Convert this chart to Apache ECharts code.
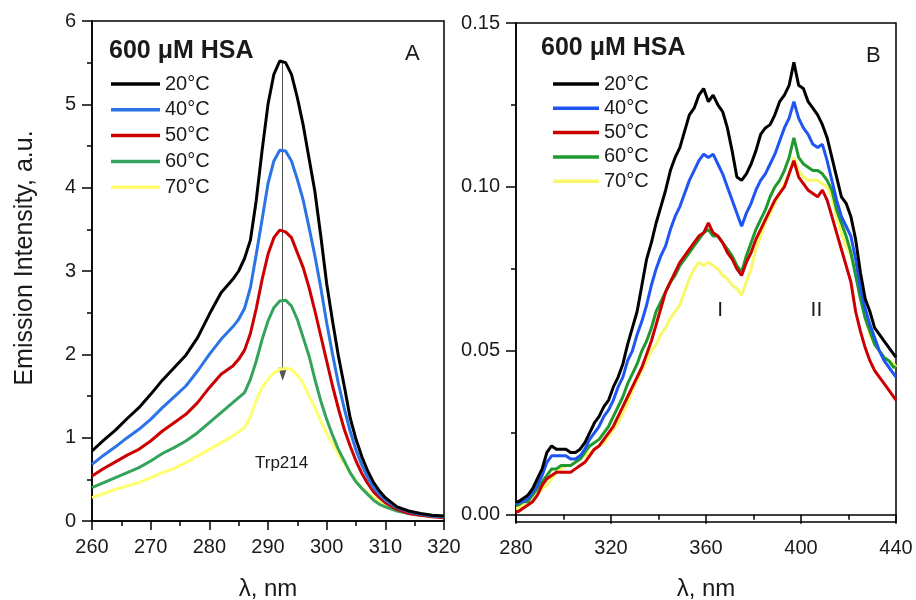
<!DOCTYPE html>
<html>
<head>
<meta charset="utf-8">
<script src="https://cdn.jsdelivr.net/npm/echarts@6/dist/echarts.min.js"></script>
<style>html,body{margin:0;padding:0;background:#fff}#c{width:916px;height:600px}</style>
</head>
<body>
<div id="c"></div>
<script>
// ---------- DATA ----------
const temps = ['20°C', '40°C', '50°C', '60°C', '70°C'];

// Panel A : wavelength (nm)
const wlA = [260,262,264,266,268,270,272,274,276,278,280,282,284,285,286,287,288,289,290,291,292,293,294,295,296,297,298,299,300,301,302,303,304,305,306,307,308,309,310,312,314,316,318,320];
const a20 = [0.84,0.97,1.09,1.23,1.36,1.52,1.69,1.84,1.99,2.20,2.48,2.74,2.90,3.00,3.15,3.37,3.85,4.45,5.00,5.36,5.52,5.50,5.36,5.08,4.75,4.35,3.95,3.42,2.85,2.40,1.98,1.62,1.24,0.98,0.77,0.60,0.46,0.36,0.28,0.17,0.12,0.09,0.07,0.06];
const a40 = [0.68,0.79,0.89,1.00,1.10,1.22,1.36,1.49,1.62,1.80,2.00,2.18,2.33,2.42,2.55,2.80,3.20,3.62,4.05,4.32,4.45,4.44,4.32,4.10,3.85,3.52,3.18,2.80,2.38,2.00,1.65,1.35,1.08,0.85,0.67,0.52,0.40,0.32,0.25,0.16,0.11,0.08,0.06,0.05];
const a50 = [0.54,0.63,0.71,0.79,0.86,0.96,1.08,1.18,1.28,1.42,1.60,1.76,1.86,1.94,2.05,2.25,2.55,2.90,3.20,3.40,3.49,3.47,3.40,3.22,3.04,2.80,2.52,2.22,1.92,1.62,1.35,1.10,0.90,0.72,0.57,0.45,0.35,0.28,0.22,0.14,0.09,0.07,0.05,0.04];
const a60 = [0.40,0.46,0.52,0.58,0.64,0.72,0.81,0.88,0.96,1.06,1.18,1.30,1.42,1.48,1.54,1.70,1.92,2.18,2.40,2.56,2.64,2.65,2.58,2.42,2.20,1.98,1.70,1.44,1.22,1.03,0.86,0.72,0.58,0.47,0.39,0.32,0.25,0.20,0.17,0.12,0.09,0.07,0.06,0.05];
const a70 = [0.28,0.33,0.38,0.42,0.46,0.52,0.58,0.63,0.70,0.78,0.86,0.94,1.02,1.07,1.12,1.25,1.45,1.60,1.70,1.78,1.82,1.83,1.82,1.75,1.65,1.50,1.36,1.20,1.05,0.93,0.80,0.69,0.58,0.48,0.40,0.34,0.28,0.24,0.21,0.15,0.11,0.08,0.06,0.05];

// Panel B : wavelength (nm)
const wlB = [280,281,283,285,287,289,291,293,295,297,299,301,303,305,307,309,311,313,315,317,319,321,323,325,327,329,331,333,335,337,339,341,343,345,347,349,351,353,355,357,359,361,363,365,367,369,371,373,375,377,379,381,383,385,387,389,391,393,395,397,399,401,403,405,407,409,411,413,415,417,419,421,423,425,427,429,431,433,435,437,439,440];
const b20 = [0.004,0.004,0.005,0.006,0.008,0.011,0.014,0.019,0.021,0.020,0.020,0.020,0.019,0.019,0.020,0.022,0.025,0.028,0.030,0.033,0.035,0.039,0.042,0.046,0.052,0.057,0.062,0.070,0.078,0.083,0.089,0.094,0.099,0.105,0.109,0.112,0.117,0.122,0.124,0.128,0.130,0.126,0.128,0.125,0.123,0.118,0.111,0.103,0.102,0.104,0.107,0.111,0.116,0.118,0.119,0.122,0.126,0.128,0.131,0.138,0.131,0.130,0.126,0.124,0.122,0.119,0.115,0.109,0.103,0.097,0.095,0.091,0.084,0.074,0.066,0.062,0.057,0.055,0.053,0.051,0.049,0.048];
const b40 = [0.003,0.004,0.004,0.005,0.007,0.009,0.012,0.016,0.018,0.018,0.018,0.018,0.017,0.017,0.018,0.020,0.023,0.025,0.027,0.030,0.032,0.035,0.039,0.042,0.047,0.050,0.055,0.059,0.064,0.070,0.075,0.079,0.082,0.087,0.091,0.094,0.098,0.102,0.105,0.108,0.110,0.109,0.110,0.107,0.104,0.100,0.096,0.092,0.088,0.092,0.095,0.099,0.102,0.104,0.107,0.110,0.114,0.118,0.121,0.126,0.121,0.118,0.116,0.113,0.112,0.113,0.108,0.102,0.096,0.091,0.088,0.085,0.078,0.069,0.063,0.058,0.054,0.050,0.047,0.045,0.043,0.042];
const b50 = [0.001,0.001,0.002,0.003,0.004,0.006,0.009,0.011,0.012,0.013,0.013,0.013,0.013,0.014,0.015,0.016,0.018,0.020,0.021,0.023,0.025,0.027,0.030,0.033,0.036,0.039,0.042,0.045,0.049,0.053,0.058,0.063,0.068,0.071,0.074,0.077,0.079,0.081,0.083,0.085,0.086,0.089,0.086,0.085,0.083,0.080,0.078,0.075,0.073,0.077,0.080,0.084,0.087,0.090,0.093,0.096,0.098,0.100,0.104,0.108,0.103,0.101,0.099,0.098,0.097,0.099,0.096,0.091,0.086,0.081,0.076,0.071,0.062,0.056,0.051,0.047,0.044,0.042,0.040,0.038,0.036,0.035];
const b60 = [0.003,0.003,0.004,0.004,0.006,0.008,0.010,0.012,0.014,0.014,0.015,0.015,0.015,0.016,0.017,0.019,0.021,0.022,0.023,0.025,0.027,0.030,0.033,0.036,0.040,0.043,0.046,0.050,0.053,0.057,0.062,0.065,0.068,0.071,0.073,0.076,0.078,0.080,0.082,0.084,0.086,0.087,0.085,0.085,0.083,0.081,0.079,0.076,0.074,0.079,0.083,0.087,0.090,0.093,0.097,0.100,0.102,0.105,0.109,0.115,0.109,0.107,0.106,0.105,0.105,0.104,0.102,0.099,0.093,0.089,0.085,0.080,0.073,0.066,0.060,0.056,0.052,0.050,0.048,0.047,0.045,0.045];
const b70 = [0.002,0.002,0.003,0.003,0.004,0.006,0.008,0.009,0.011,0.013,0.014,0.015,0.015,0.016,0.017,0.018,0.019,0.020,0.021,0.022,0.024,0.026,0.028,0.031,0.034,0.038,0.041,0.044,0.047,0.050,0.052,0.055,0.057,0.060,0.062,0.064,0.068,0.072,0.075,0.077,0.076,0.077,0.076,0.075,0.073,0.072,0.070,0.069,0.067,0.071,0.075,0.081,0.085,0.089,0.092,0.095,0.098,0.101,0.104,0.109,0.105,0.103,0.102,0.102,0.102,0.101,0.100,0.097,0.091,0.086,0.082,0.079,0.074,0.069,0.060,0.055,0.052,0.050,0.048,0.047,0.046,0.045];

const yTicksB = [0, 0.05, 0.10, 0.15];
const yMinorB = [0.025, 0.075, 0.125];

// ---------- STYLE ----------
const FONT = 'Liberation Sans, Arial, sans-serif';
const TXT = '#1a1a1a';
const colA = ['#000000', '#2a74e6', '#cc0000', '#35a35c', '#ffff70'];
const colB = ['#000000', '#1f55f2', '#cc0000', '#1f9a2f', '#f8f86a'];
const seriesA = [a20, a40, a50, a60, a70];
const seriesB = [b20, b40, b50, b60, b70];
const namesA = temps.map(t => 'A' + t);
const namesB = temps.map(t => 'B' + t);

const axisLineStyle = { show: true, lineStyle: { color: '#000', width: 1.5 } };
const lbl = { color: TXT, fontSize: 20, fontFamily: FONT, margin: 16 };

const series = [];
seriesA.forEach((arr, i) => {
  const s = {
    type: 'line', name: namesA[i], xAxisIndex: 0, yAxisIndex: 0,
    data: wlA.map((x, k) => [x, arr[k]]),
    showSymbol: false, symbol: 'none',
    lineStyle: { width: 3, color: colA[i] }, itemStyle: { color: colA[i] },
    z: 10 - i
  };
  if (i === 0) {
    s.markLine = {
      silent: true, symbol: ['none', 'triangle'], symbolSize: [9, 13],
      lineStyle: { color: '#555', width: 1, type: 'solid' },
      label: { show: false }, animation: false,
      data: [[{ coord: [292.5, 5.52] }, { coord: [292.5, 1.76] }]]
    };
  }
  series.push(s);
});
seriesB.forEach((arr, i) => {
  const s = {
    type: 'line', name: namesB[i], xAxisIndex: 1, yAxisIndex: 1,
    data: wlB.map((x, k) => [x, arr[k]]),
    showSymbol: false, symbol: 'none',
    lineStyle: { width: 3, color: colB[i] }, itemStyle: { color: colB[i] },
    z: 10 - i
  };
  if (i === 0) {
    s.markPoint = {
      silent: true, symbol: 'circle', symbolSize: 0, animation: false,
      label: { show: true, color: TXT, fontSize: 21, fontFamily: FONT, position: 'inside' },
      data: [
        { coord: [366, 0.0625], value: 'I', label: { formatter: 'I' } },
        { coord: [406.5, 0.0625], value: 'II', label: { formatter: 'II' } }
      ]
    };
  }
  series.push(s);
});

const chart = echarts.init(document.getElementById('c'), null, { renderer: 'canvas' });
chart.setOption({
  animation: false,
  backgroundColor: '#fff',
  textStyle: { fontFamily: FONT },
  grid: [
    { left: 92, top: 21, width: 352, height: 500, show: true, borderColor: '#000', borderWidth: 1.5,
      containLabel: false, outerBoundsMode: 'none' },
    { left: 516, top: 23, width: 380, height: 499, show: true, borderColor: '#000', borderWidth: 1.5,
      containLabel: false, outerBoundsMode: 'none' }
  ],
  xAxis: [
    { type: 'value', gridIndex: 0, min: 260, max: 320, interval: 10,
      name: 'λ, nm', nameLocation: 'middle', nameGap: 56,
      nameTextStyle: { fontSize: 24, color: TXT, fontFamily: FONT },
      axisLine: axisLineStyle, axisTick: { show: true, length: 9, lineStyle: { color: '#000', width: 1.5 } },
      minorTick: { show: true, splitNumber: 2, length: 5, lineStyle: { color: '#000', width: 1.5 } },
      splitLine: { show: false }, axisLabel: lbl },
    { type: 'value', gridIndex: 1, min: 280, max: 440, interval: 40,
      name: 'λ, nm', nameLocation: 'middle', nameGap: 55,
      nameTextStyle: { fontSize: 24, color: TXT, fontFamily: FONT },
      axisLine: axisLineStyle, axisTick: { show: true, length: 9, lineStyle: { color: '#000', width: 1.5 } },
      minorTick: { show: true, splitNumber: 2, length: 5, lineStyle: { color: '#000', width: 1.5 } },
      splitLine: { show: false }, axisLabel: lbl }
  ],
  yAxis: [
    { type: 'value', gridIndex: 0, min: 0, max: 6, interval: 1,
      axisLine: axisLineStyle, axisTick: { show: true, length: 10, lineStyle: { color: '#000', width: 1.5 } },
      minorTick: { show: true, splitNumber: 2, length: 5, lineStyle: { color: '#000', width: 1.5 } },
      splitLine: { show: false }, axisLabel: lbl },
    { type: 'value', gridIndex: 1, min: -0.0022, max: 0.15,
      axisLine: axisLineStyle,
      axisTick: { show: true, length: 10, customValues: yTicksB, lineStyle: { color: '#000', width: 1.5 } },
      splitLine: { show: false },
      axisLabel: Object.assign({}, lbl, { customValues: yTicksB, formatter: v => v.toFixed(2) }) },
    { type: 'value', gridIndex: 1, min: -0.0022, max: 0.15, position: 'left', offset: 0,
      axisLine: { show: false },
      axisTick: { show: true, length: 5, customValues: yMinorB, lineStyle: { color: '#000', width: 1.5 } },
      splitLine: { show: false }, axisLabel: { show: false } }
  ],
  legend: [
    { data: namesA, left: 106, top: 69, orient: 'vertical', itemWidth: 49, itemHeight: 3.5, itemGap: 5.8,
      itemTextGap: 4, selectedMode: false, icon: 'rect', formatter: n => n.slice(1),
      textStyle: { fontSize: 20, color: TXT, fontFamily: FONT, lineHeight: 20 } },
    { data: namesB, left: 548, top: 69, orient: 'vertical', itemWidth: 46, itemHeight: 3.5, itemGap: 4.3,
      itemTextGap: 5, selectedMode: false, icon: 'rect', formatter: n => n.slice(1),
      textStyle: { fontSize: 20, color: TXT, fontFamily: FONT, lineHeight: 20 } }
  ],
  graphic: [
    { type: 'text', x: 13, y: 258, rotation: Math.PI / 2,
      style: { text: 'Emission Intensity, a.u.', font: '25px ' + FONT, fill: TXT, align: 'center', verticalAlign: 'top' } },
    { type: 'text', left: 109, top: 39, style: { text: '600 μM HSA', font: 'bold 25px ' + FONT, fill: TXT } },
    { type: 'text', left: 405, top: 43, style: { text: 'A', font: '22px ' + FONT, fill: TXT } },
    { type: 'text', left: 541, top: 36, style: { text: '600 μM HSA', font: 'bold 25px ' + FONT, fill: TXT } },
    { type: 'text', left: 866, top: 45, style: { text: 'B', font: '22px ' + FONT, fill: TXT } },
    { type: 'text', left: 255, top: 455, style: { text: 'Trp214', font: '17px ' + FONT, fill: TXT } }
  ],
  series: series
});
</script>
</body>
</html>
